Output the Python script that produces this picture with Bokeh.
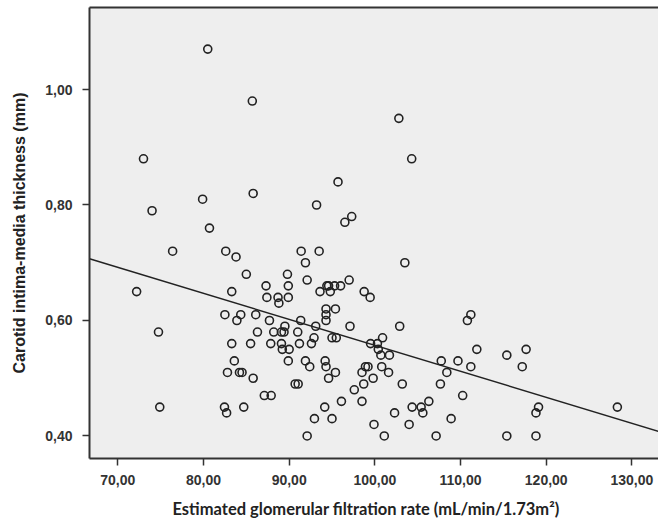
from bokeh.plotting import figure
from bokeh.models import LinearAxis, FixedTicker, CustomJSTickFormatter, Range1d, ColumnDataSource, Title
from bokeh.embed import file_html
from bokeh.resources import INLINE

# eGFR (mL/min/1.73m2) and carotid IMT (mm)
egfr = [80.5, 85.7, 73.0, 74.0, 79.9, 85.8, 80.7, 93.2, 76.4, 82.6, 83.8, 91.4, 93.5, 91.9,
        102.8, 104.3, 95.7, 96.5, 97.3, 103.5, 72.2, 74.75, 74.9, 85.0, 83.3, 87.3, 87.4, 88.7,
        88.8, 89.8, 89.9, 89.9, 82.5, 83.9, 84.35, 86.1, 87.7, 89.5, 86.3, 88.2, 89.1, 89.4,
        83.3, 85.5, 87.85, 89.1, 89.2, 90.0, 89.9, 83.6, 82.8, 84.2, 84.5, 85.8, 87.1, 87.9,
        82.45, 82.7, 84.7, 92.1, 94.4, 94.6, 95.3, 96.0, 97.0, 93.6, 94.8, 98.75, 99.45, 94.3,
        95.4, 94.3, 94.3, 91.35, 93.1, 97.1, 91.0, 92.9, 95.0, 95.5, 100.9, 91.2, 92.6, 91.9,
        92.4, 94.2, 94.3, 95.4, 94.6, 90.7, 91.05, 97.6, 98.5, 98.9, 99.2, 98.7, 99.8, 99.5,
        100.3, 100.4, 100.7, 100.8, 96.1, 98.5, 94.15, 92.95, 95.0, 99.9, 101.1, 92.1, 102.9,
        111.2, 110.8, 101.7, 111.9, 115.4, 117.65, 117.2, 107.75, 109.7, 111.2, 108.4, 101.6,
        103.2, 107.65, 110.25, 104.35, 105.4, 105.6, 106.3, 102.3, 108.9, 104.0, 107.15, 115.4,
        118.8, 119.1, 118.8, 128.3]
imt = [1.07, 0.98, 0.88, 0.79, 0.81, 0.82, 0.76, 0.80, 0.72, 0.72, 0.71, 0.72, 0.72, 0.70,
       0.95, 0.88, 0.84, 0.77, 0.78, 0.70, 0.65, 0.58, 0.45, 0.68, 0.65, 0.66, 0.64, 0.64,
       0.63, 0.68, 0.66, 0.64, 0.61, 0.60, 0.61, 0.61, 0.60, 0.59, 0.58, 0.58, 0.58, 0.58,
       0.56, 0.56, 0.56, 0.56, 0.55, 0.55, 0.53, 0.53, 0.51, 0.51, 0.51, 0.50, 0.47, 0.47,
       0.45, 0.44, 0.45, 0.67, 0.66, 0.66, 0.66, 0.66, 0.67, 0.65, 0.65, 0.65, 0.64, 0.62,
       0.62, 0.61, 0.60, 0.60, 0.59, 0.59, 0.58, 0.57, 0.57, 0.57, 0.57, 0.56, 0.56, 0.53,
       0.52, 0.53, 0.52, 0.51, 0.50, 0.49, 0.49, 0.48, 0.51, 0.52, 0.52, 0.49, 0.50, 0.56,
       0.56, 0.55, 0.54, 0.52, 0.46, 0.46, 0.45, 0.43, 0.43, 0.42, 0.40, 0.40, 0.59,
       0.61, 0.60, 0.54, 0.55, 0.54, 0.55, 0.52, 0.53, 0.53, 0.52, 0.51, 0.51,
       0.49, 0.49, 0.47, 0.45, 0.45, 0.44, 0.46, 0.44, 0.43, 0.42, 0.40, 0.40,
       0.40, 0.45, 0.44, 0.45]

x_ticks = [70, 80, 90, 100, 110, 120, 130]
y_ticks = [0.40, 0.60, 0.80, 1.00]
x_limits = [66.7, 133.1]
y_limits = [0.361, 1.142]

# fitted regression line
fit_intercept = 1.007
fit_slope = -0.0045

x_title = "Estimated glomerular filtration rate (mL/min/1.73m\u00b2)"
y_title = "Carotid intima-media thickness (mm)"

p = figure(width=658, height=527, output_backend="svg", toolbar_location=None,
           x_range=Range1d(*x_limits), y_range=Range1d(*y_limits),
           x_axis_location=None, y_axis_location=None,
           min_border_left=89, min_border_right=0, min_border_top=7, min_border_bottom=68)
p.background_fill_color = "#EEEEEE"
p.border_fill_color = "white"
p.outline_line_color = None
p.xgrid.visible = False
p.ygrid.visible = False

fmt = CustomJSTickFormatter(code="return tick.toFixed(2).replace('.', ',');")
lab_font = "Liberation Sans"

xa = LinearAxis(ticker=FixedTicker(ticks=x_ticks), formatter=fmt)
ya = LinearAxis(ticker=FixedTicker(ticks=y_ticks), formatter=fmt, axis_label=y_title)
for ax in (xa, ya):
    ax.axis_line_color = "#333333"
    ax.axis_line_width = 2
    ax.major_tick_line_color = "#333333"
    ax.major_tick_line_width = 1.5
    ax.major_tick_out = 7
    ax.major_tick_in = 0
    ax.minor_tick_line_color = None
    ax.major_label_text_font = lab_font
    ax.major_label_text_font_size = "14px"
    ax.major_label_text_font_style = "bold"
    ax.major_label_text_color = "#333333"
    ax.axis_label_text_color = "#222222"
    ax.axis_label_text_font_style = "bold"
xa.major_label_standoff = 9
ya.major_label_standoff = 10
ya.axis_label_standoff = 14
ya.axis_label_text_font = lab_font
ya.axis_label_text_font_size = "16px"
p.add_layout(xa, "below")
p.add_layout(ya, "left")

# x title: the original frame runs past the right edge, so its title sits right of centre
x_title_obj = Title(text=x_title, align="left", offset=83, standoff=18,
                    text_font="Lato", text_font_size="16.5px", text_font_style="bold",
                    text_color="#222222")
p.add_layout(x_title_obj, "below")

top = LinearAxis(ticker=FixedTicker(ticks=[]), axis_line_color="#333333", axis_line_width=2,
                 major_tick_line_color=None, minor_tick_line_color=None,
                 major_label_text_font_size="0px")
p.add_layout(top, "above")

line_x = list(x_limits)
line_y = [fit_intercept + fit_slope * v for v in line_x]
p.line(line_x, line_y, line_color="#222222", line_width=1.4)

src = ColumnDataSource(dict(x=egfr, y=imt))
p.scatter("x", "y", source=src, marker="circle", size=8, fill_color=None,
          line_color="#222222", line_width=1.6)

open("out.html", "w").write(file_html(p, INLINE))
